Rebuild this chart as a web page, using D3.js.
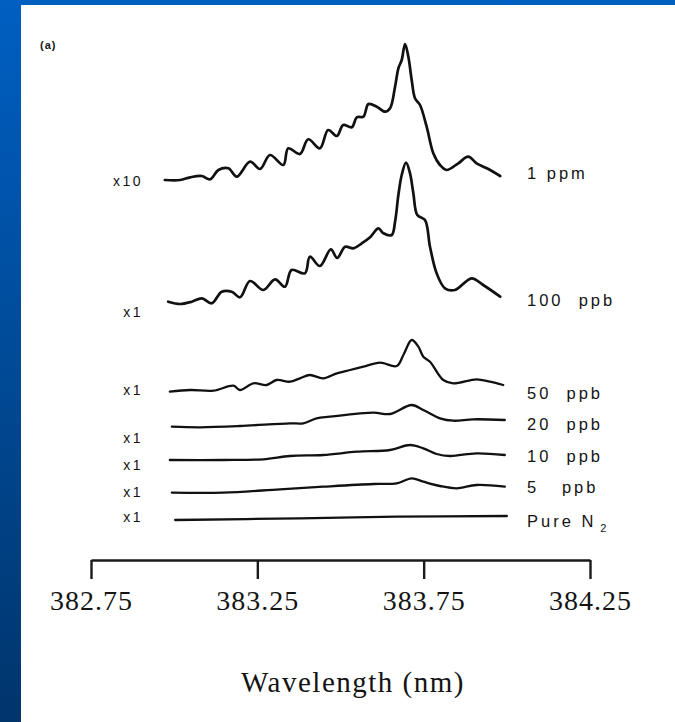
<!DOCTYPE html>
<html>
<head>
<meta charset="utf-8">
<script src="https://cdn.jsdelivr.net/npm/d3@7"></script>
<style>
  html, body { margin: 0; padding: 0; background: #ffffff; }
  svg { display: block; }
  .lbl { font-family: "Liberation Sans", Arial, sans-serif; fill: #141414; white-space: pre; }
  .axis text { font-family: "Liberation Serif", "Times New Roman", serif; fill: #141414; }
</style>
</head>
<body>
<svg id="chart" width="675" height="722"></svg>
<script>
// Emission spectra of the 383.7 nm band at decreasing concentrations,
// each trace stacked on its own offset (arbitrary intensity units).
const wavelengthTicks = [382.75, 383.25, 383.75, 384.25];
const concentrations = ["1 ppm", "100  ppb", "50  ppb", "20  ppb", "10  ppb", "5   ppb", "Pure N"];
const gains = ["x10", "x1", "x1", "x1", "x1", "x1", "x1"];
const offsets = [379, 257, 169, 133, 100, 67, 40];

// [wavelength (nm), intensity above trace offset]
const spectrum1ppm = [
  [382.972, 1], [383.018, 1], [383.048, 3.7], [383.083, 5], [383.108, 1.7],
  [383.133, 11], [383.163, 12.7], [383.188, 4.3], [383.228, 19.3], [383.258, 12],
  [383.288, 26], [383.328, 16], [383.343, 32.7], [383.378, 27], [383.403, 41.7],
  [383.438, 32.7], [383.463, 51], [383.489, 45], [383.508, 56], [383.534, 53.7],
  [383.549, 63.7], [383.569, 64.3], [383.584, 77], [383.609, 74.3], [383.634, 69.3],
  [383.649, 72.7], [383.664, 94.3], [383.674, 112.7], [383.684, 121], [383.694, 137],
  [383.704, 124.3], [383.714, 101], [383.724, 82.7], [383.739, 76], [383.759, 54.3],
  [383.779, 27.7], [383.799, 16], [383.819, 11], [383.854, 17.7], [383.884, 24.3],
  [383.909, 17.7], [383.940, 12.7], [383.980, 5]
];
const spectrum100ppb = [
  [382.982, 1.3], [383.018, -1], [383.053, 1.3], [383.083, 4.7], [383.113, -0.3],
  [383.143, 11.3], [383.173, 11.3], [383.198, 5.7], [383.228, 22], [383.268, 13],
  [383.303, 23.7], [383.333, 16.3], [383.353, 33], [383.393, 29.7], [383.408, 46.3],
  [383.438, 37], [383.471, 53.7], [383.490, 45], [383.514, 56.3], [383.539, 54.7],
  [383.564, 59.7], [383.589, 65.7], [383.614, 74.7], [383.629, 69.7], [383.654, 68],
  [383.664, 81.3], [383.674, 108], [383.684, 128], [383.697, 140.3], [383.709, 129.7],
  [383.719, 109.7], [383.731, 88], [383.754, 83], [383.769, 56.3], [383.789, 29.7],
  [383.814, 14.7], [383.844, 13], [383.894, 24.7], [383.929, 18], [383.980, 6.3]
];
const spectrum50ppb = [
  [382.987, -0.7], [383.048, 1], [383.118, 0.3], [383.178, 5.3], [383.198, 1],
  [383.238, 7.7], [383.278, 6], [383.308, 11], [383.348, 9.3], [383.378, 12.7],
  [383.408, 16], [383.448, 12.7], [383.489, 17.7], [383.529, 21], [383.569, 24.3],
  [383.619, 28.3], [383.669, 25], [383.689, 36], [383.714, 51], [383.734, 44.3],
  [383.749, 34.3], [383.769, 29.3], [383.809, 11], [383.839, 7.7], [383.909, 11.7],
  [383.949, 9.3], [383.989, 6]
];
const spectrum20ppb = [
  [382.993, 0.3], [383.078, -0.3], [383.198, 1], [383.348, 3.7], [383.388, 3.7],
  [383.428, 8.7], [383.468, 10.3], [383.599, 14.3], [383.649, 13], [383.714, 22],
  [383.749, 17], [383.799, 8.7], [383.839, 6.3], [383.899, 7.7], [383.994, 7]
];
const spectrum10ppb = [
  [382.987, 0], [383.148, 0], [383.268, 0.7], [383.348, 4], [383.448, 5],
  [383.549, 8.3], [383.649, 10], [383.709, 15], [383.749, 11.7], [383.789, 6],
  [383.829, 4], [383.909, 6.7], [383.994, 5]
];
const spectrum5ppb = [
  [382.993, 0.3], [383.148, 0.3], [383.318, 3.7], [383.448, 6.3], [383.599, 9],
  [383.669, 9.7], [383.714, 14.7], [383.749, 11.3], [383.799, 7], [383.849, 4.7],
  [383.909, 8], [383.994, 6.3]
];
const spectrumN2 = [
  [383.003, 0], [383.378, 1.7], [383.669, 3.3], [384.000, 4]
];

const spectra = [spectrum1ppm, spectrum100ppb, spectrum50ppb, spectrum20ppb,
                 spectrum10ppb, spectrum5ppb, spectrumN2];

// ---- layout ----
const W = 675, H = 722;
const svg = d3.select("#chart");

// blue slide frame with white panel
const defs = svg.append("defs");
const grad = defs.append("linearGradient")
  .attr("id", "frameGrad").attr("x1", 0).attr("y1", 0).attr("x2", 0).attr("y2", 1);
grad.append("stop").attr("offset", "0%").attr("stop-color", "#005fc2");
grad.append("stop").attr("offset", "100%").attr("stop-color", "#00356c");
svg.append("rect").attr("width", W).attr("height", H).attr("fill", "url(#frameGrad)");
svg.append("rect").attr("x", 21).attr("y", 5).attr("width", W - 21).attr("height", H - 5)
  .attr("fill", "#ffffff");

const x = d3.scaleLinear().domain([382.75, 384.25]).range([91, 590]);
const y = d3.scaleLinear().domain([0, 520]).range([560, 40]);

const line = d3.line()
  .x(d => x(d[0]))
  .y(d => y(d[1]))
  .curve(d3.curveCatmullRom.alpha(0.5));

const g = svg.append("g");

spectra.forEach((s, i) => {
  const off = offsets[i];
  g.append("path")
    .datum(s.map(p => [p[0], p[1] + off]))
    .attr("d", line)
    .attr("fill", "none")
    .attr("stroke", "#111")
    .attr("stroke-width", i < 2 ? 2.7 : 2.3)
    .attr("stroke-linejoin", "round")
    .attr("stroke-linecap", "round");
});

// gain factors to the left of each trace
const leftDy = [0, 9, -1, 11, 5, -1, -3];
gains.forEach((t, i) => {
  svg.append("text").attr("class", "lbl")
    .attr("x", 143).attr("y", y(offsets[i]) + leftDy[i])
    .attr("dy", "0.35em")
    .attr("text-anchor", "end")
    .style("font-size", "14px").style("letter-spacing", "2.5px")
    .text(t);
});

// concentration labels to the right
const rightDy = [-8, -3, 2, -3, -4, -6, 1];
concentrations.forEach((t, i) => {
  const tx = svg.append("text").attr("class", "lbl")
    .attr("x", 527).attr("y", y(offsets[i]) + rightDy[i])
    .attr("dy", "0.35em")
    .style("font-size", "16.5px").style("letter-spacing", "3px")
    .text(t);
  if (i === concentrations.length - 1) {
    tx.append("tspan").attr("dx", 4).attr("dy", 5)
      .style("font-size", "11px").text("2");
  }
});

// panel tag
svg.append("text").attr("class", "lbl")
  .attr("x", 40).attr("y", 49)
  .style("font-size", "11px").style("font-weight", "bold").style("letter-spacing", "1px")
  .text("(a)");

// wavelength axis
const axis = d3.axisBottom(x)
  .tickValues(wavelengthTicks)
  .tickFormat(d3.format(".2f"))
  .tickSize(19)
  .tickSizeOuter(0)
  .tickPadding(11);

const ax = svg.append("g").attr("class", "axis")
  .attr("transform", "translate(0,560)")
  .call(axis);
ax.select(".domain").attr("stroke", "#1a1a1a").attr("stroke-width", 2.6);
ax.selectAll(".tick line").attr("stroke", "#1a1a1a").attr("stroke-width", 2.4);
ax.selectAll(".tick text")
  .style("font-size", "28px").style("letter-spacing", "1px");

svg.append("text")
  .attr("x", 353).attr("y", 692)
  .attr("text-anchor", "middle")
  .style("font-family", "\"Liberation Serif\", \"Times New Roman\", serif")
  .style("font-size", "29px").style("letter-spacing", "1.5px")
  .attr("fill", "#141414")
  .text("Wavelength (nm)");
</script>
</body>
</html>
